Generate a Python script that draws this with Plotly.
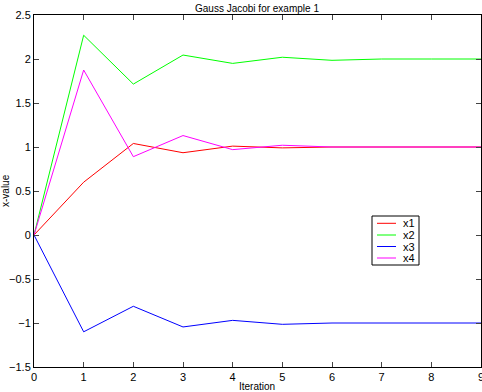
import plotly.graph_objects as go

iterations = [0, 1, 2, 3, 4, 5, 6, 7, 8, 9]
x1 = [0, 0.60, 1.04, 0.935, 1.01, 0.99, 1.0, 1.0, 1.0, 1.0]
x2 = [0, 2.27, 1.715, 2.045, 1.95, 2.02, 1.985, 2.0, 2.0, 2.0]
x3 = [0, -1.10, -0.81, -1.045, -0.97, -1.015, -1.0, -1.0, -1.0, -1.0]
x4 = [0, 1.875, 0.89, 1.13, 0.97, 1.02, 1.0, 1.0, 1.0, 1.0]
names = ["x1", "x2", "x3", "x4"]
colors = ["#ff0000", "#00ff00", "#0000ff", "#ff00ff"]
x_ticks = [0, 1, 2, 3, 4, 5, 6, 7, 8, 9]
y_ticks = [-1.5, -1, -0.5, 0, 0.5, 1, 1.5, 2, 2.5]
y_tick_text = ["\u22121.5", "\u22121", "\u22120.5", "0", "0.5", "1", "1.5", "2", "2.5"]

W, H = 482, 392
L, R, T, B = 34, 1, 15, 25
PW, PH = W - L - R, H - T - B


def px(xp):
    return (xp - L) / PW


def py(yp):
    return (H - B - yp) / PH


fig = go.Figure()
for name, ys, c in zip(names, [x1, x2, x3, x4], colors):
    fig.add_trace(go.Scatter(x=iterations, y=ys, mode="lines", name=name,
                             line=dict(color=c, width=1), showlegend=False))

font = dict(family="Liberation Sans, Arial, sans-serif", size=10, color="black")

shapes = []
annotations = []
# legend box
shapes.append(dict(type="rect", xref="paper", yref="paper",
                   x0=px(372), x1=px(419), y0=py(265), y1=py(216),
                   line=dict(color="black", width=1), fillcolor="white", layer="above"))
rows = [223.3, 235, 246.5, 258]
for name, c, ry in zip(names, colors, rows):
    shapes.append(dict(type="line", xref="paper", yref="paper",
                       x0=px(377), x1=px(396), y0=py(ry), y1=py(ry),
                       line=dict(color=c, width=1), layer="above"))
    annotations.append(dict(text=name, xref="paper", yref="paper",
                            x=px(401), y=py(ry), xanchor="left", yanchor="middle",
                            showarrow=False, font=dict(size=11)))

annotations.append(dict(text="Gauss Jacobi for example 1", xref="paper", yref="paper",
                        x=px(257), y=py(8), xanchor="center", yanchor="middle",
                        showarrow=False, font=dict(size=10)))
annotations.append(dict(text="Iteration", xref="paper", yref="paper",
                        x=px(257), y=py(386.5), xanchor="center", yanchor="middle",
                        showarrow=False, font=dict(size=10)))
annotations.append(dict(text="x-value", xref="paper", yref="paper",
                        x=px(5), y=py(191), xanchor="center", yanchor="middle",
                        textangle=-90, showarrow=False, font=dict(size=10)))

fig.update_layout(
    width=W, height=H,
    margin=dict(l=L, r=R, t=T, b=B, autoexpand=False),
    paper_bgcolor="white", plot_bgcolor="white",
    font=font,
    showlegend=False,
    shapes=shapes,
    annotations=annotations,
    xaxis=dict(range=[0, 9], tickvals=x_ticks, ticks="inside", ticklen=5,
               showline=True, linecolor="black", linewidth=1, mirror="ticks",
               showgrid=False, zeroline=False, tickfont=dict(size=11),
               automargin=False, ticklabeloverflow="allow"),
    yaxis=dict(range=[-1.5, 2.5], tickvals=y_ticks, ticktext=y_tick_text,
               ticks="inside", ticklen=5,
               showline=True, linecolor="black", linewidth=1, mirror="ticks",
               showgrid=False, zeroline=False, tickfont=dict(size=11),
               automargin=False, ticklabeloverflow="allow"),
)
fig.write_html("out.html", config={"displayModeBar": False},
               post_script="document.body.style.margin='0';document.body.style.overflow='hidden';")
